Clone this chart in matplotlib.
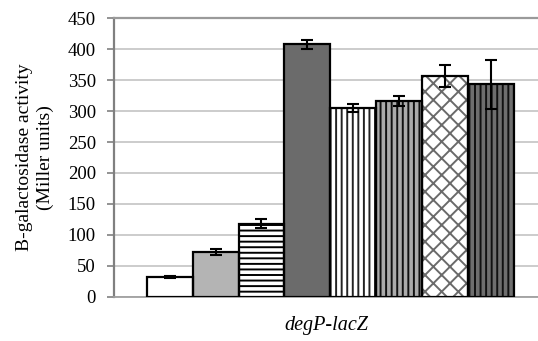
import matplotlib
matplotlib.use("Agg")
import matplotlib.pyplot as plt
import numpy as np

# Data
categories = ["1", "2", "3", "4", "5", "6", "7", "8"]
values = [32, 72, 118, 408, 305, 316, 357, 343]
errors = [2, 5, 7, 7, 6, 8, 18, 40]
face_colors = ["white", "#b4b4b4", "white", "#6b6b6b", "white", "#ababab", "white", "#6e6e6e"]
hatches = [None, None, "---", None, "|||", "|||", "xx", "|||"]
hatch_colors = ["black", "black", "black", "black", "#222222", "#111111", "#6a6a6a", "#111111"]
yticks = [0, 50, 100, 150, 200, 250, 300, 350, 400, 450]

plt.rcParams["font.family"] = ["Liberation Serif", "DejaVu Serif"]
plt.rcParams["hatch.linewidth"] = 1.4

fig = plt.figure(figsize=(5.38, 3.41), dpi=100)
ax = fig.add_axes([114 / 538, 1 - 296.7 / 341, 1 - 114 / 538, (296.7 - 18.3) / 341])

x = np.arange(len(categories))
for i in range(len(categories)):
    # fill + hatch (hatch colour follows edgecolor)
    ax.bar(x[i], values[i], width=1.0, color=face_colors[i], hatch=hatches[i],
           edgecolor=hatch_colors[i], linewidth=0, zorder=3)
    # black outline
    ax.bar(x[i], values[i], width=1.0, fill=False, edgecolor="black",
           linewidth=1.6, zorder=4)

ax.errorbar(x, values, yerr=errors, fmt="none", ecolor="black", elinewidth=1.5,
            capsize=4.5, capthick=1.5, zorder=5)

ax.set_xlim(-0.5 - 32.7 / 45.9, 7.5 + 24 / 45.9)
ax.set_ylim(0, 450)
ax.set_yticks(yticks)
ax.set_xticks([])
ax.yaxis.grid(True, color="#c8c8c8", linewidth=1.3, zorder=0)
ax.set_axisbelow(True)

for s in ["right"]:
    ax.spines[s].set_visible(False)
ax.spines["left"].set_color("#808080")
ax.spines["left"].set_linewidth(1.6)
ax.spines["top"].set_color("#9a9a9a")
ax.spines["top"].set_linewidth(1.6)
ax.spines["bottom"].set_color("#a0a0a0")
ax.spines["bottom"].set_linewidth(1.3)

ax.tick_params(axis="y", length=5, width=1.2, color="#808080", pad=8, labelsize=13.5)

ax.set_xlabel("degP-lacZ", fontsize=14.5, style="italic", labelpad=14)

fig.text(35 / 538, 1 - 157.5 / 341, "B-galactosidase activity\n(Miller units)",
         rotation=90, ha="center", va="center", fontsize=14, multialignment="center",
         linespacing=1.3)

fig.savefig("out.png", dpi=100)
